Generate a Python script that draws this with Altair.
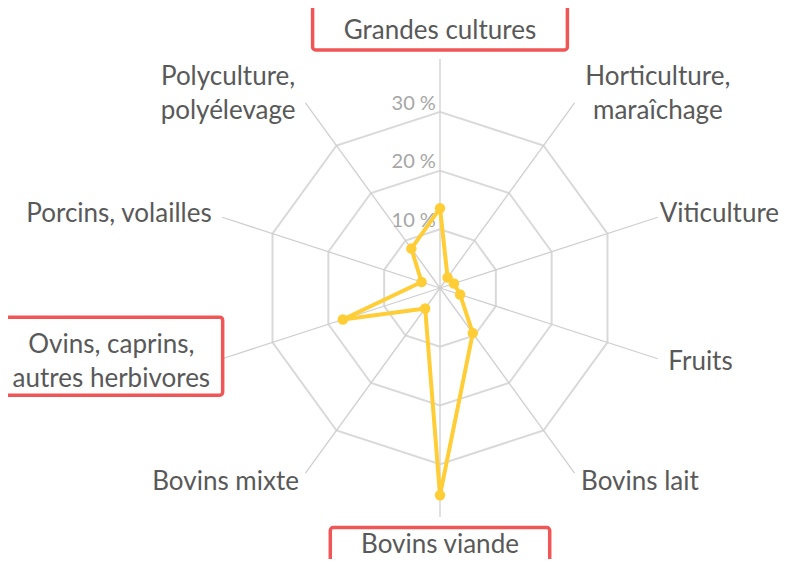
import math
import altair as alt
import pandas as pd

# ---- data ----
categories = ["Grandes cultures", "Horticulture,\nmaraîchage", "Viticulture", "Fruits",
              "Bovins lait", "Bovins viande", "Bovins mixte",
              "Ovins, caprins,\nautres herbivores", "Porcins, volailles",
              "Polyculture,\npolyélevage"]
values = [13.6, 2.2, 2.5, 3.6, 9.5, 35.3, 4.3, 17.4, 3.3, 8.3]
ring_levels = [10, 20, 30]
ring_labels = ["10 %", "20 %", "30 %"]
highlighted = ["Grandes cultures", "Ovins, caprins,\nautres herbivores", "Bovins viande"]

# ---- geometry helpers ----
PX = 5.87          # pixels per percent
W, H = 776, 551
CX, CY = 432, 280  # centre in plot pixels
xdom = [-CX / PX, (W - CX) / PX]
ydom = [-(H - CY) / PX, CY / PX]
n = len(categories)
angles = [i * 360 / n for i in range(n)]
LH = 34  # line height px


def pol(r, a):
    t = math.radians(a)
    return r * math.sin(t), r * math.cos(t)


# rings
ring_rows = []
for lv in ring_levels:
    for k in range(n + 1):
        x, y = pol(lv, angles[k % n])
        ring_rows.append({"ring": lv, "k": k, "x": x, "y": y})
rings = pd.DataFrame(ring_rows)

# spokes
spoke_rows = []
for i, a in enumerate(angles):
    x, y = pol(39, a)
    spoke_rows.append({"s": i, "x": 0, "y": 0, "x2": x, "y2": y})
spokes = pd.DataFrame(spoke_rows)

# series
ser_rows = []
for k in range(n + 1):
    i = k % n
    x, y = pol(values[i], angles[i])
    ser_rows.append({"k": k, "x": x, "y": y, "cat": categories[i], "v": values[i]})
series = pd.DataFrame(ser_rows)

# category labels
CH = 11.8 / PX  # approx char width in units
lab_rows = []
for c, a in zip(categories, angles):
    lines = c.split("\n")
    wid = max(len(l) for l in lines) * CH
    if a in (0, 180):
        x, y = pol(43.8, a)
        align = "center"
    else:
        x, y = pol(40.9, a)
        if len(lines) > 1:
            x = x + (wid / 2 if a < 180 else -wid / 2)
            align = "center"
        else:
            align = "left" if a < 180 else "right"
            if align == "left":
                x = min(x, xdom[1] - len(c) * 11.3 / PX)
    lab_rows.append({"label": c, "x": x, "y": y, "a": a, "align": align, "w": wid, "nl": len(lines),
                     "ty": y + (len(lines) - 1) * LH / 2 / PX})
labels = pd.DataFrame(lab_rows)

# highlight boxes around labels
box_rows = []
for _, r in labels[labels["label"].isin(highlighted)].iterrows():
    cx = r["x"]
    hw = r["w"] / 2 + (33 / PX if r["nl"] == 1 else 11 / PX)
    hh = (6 + 16.5 * r["nl"]) / PX
    if r["a"] == 180:
        dy = -5 / PX
    elif r["nl"] > 1:
        dy = 6 / PX
    else:
        dy = 3.5 / PX
    box_rows.append({"x": cx - hw, "x2": cx + hw, "y": r["y"] - hh + dy, "y2": r["y"] + hh + dy})
boxes = pd.DataFrame(box_rows)

# ring value labels
rl = pd.DataFrame({"y": [lv + 1.4 for lv in ring_levels], "x": [-0.7] * 3, "t": ring_labels})

X = lambda f="x": alt.X(f"{f}:Q", scale=alt.Scale(domain=xdom, nice=False, zero=False), axis=None)
Y = lambda f="y": alt.Y(f"{f}:Q", scale=alt.Scale(domain=ydom, nice=False, zero=False), axis=None)

ring_layer = alt.Chart(rings).mark_line(color="#d9d9d9", strokeWidth=2).encode(
    x=X(), y=Y(), detail="ring:N", order="k:Q")
spoke_layer = alt.Chart(spokes).mark_rule(color="#cfcfcf", strokeWidth=1.3).encode(
    x=X(), y=Y(), x2="x2:Q", y2="y2:Q")
line_layer = alt.Chart(series).mark_line(color="#FFCD36", strokeWidth=4, strokeJoin="round").encode(
    x=X(), y=Y(), order="k:Q")
pt_layer = alt.Chart(series[series["k"] < n]).mark_circle(color="#FFCD36", size=110, opacity=1).encode(
    x=X(), y=Y())

font = "Lato"
txt = []
for al in ["left", "right", "center"]:
    sub = labels[labels["align"] == al]
    txt.append(alt.Chart(sub).mark_text(align=al, baseline="middle", font=font, fontSize=26,
                                        color="#595959", lineBreak="\n", lineHeight=LH).encode(
        x=X(), y=Y("ty"), text="label:N"))

rl_layer = alt.Chart(rl).mark_text(align="right", baseline="middle", font=font, fontSize=20,
                                   color="#a6a6a6").encode(x=X(), y=Y(), text="t:N")

box_layer = alt.Chart(boxes).mark_rect(fill="transparent", stroke="#F05656", strokeWidth=3.5,
                                       cornerRadius=3).encode(x=X(), y=Y(), x2="x2:Q", y2="y2:Q")

chart = alt.layer(ring_layer, spoke_layer, rl_layer, line_layer, pt_layer, *txt, box_layer).properties(
    width=W, height=H, padding=0, background="white", autosize=alt.AutoSizeParams(type="none")
).configure_view(strokeWidth=0, stroke="transparent")

chart.save("out.html", embed_options={"renderer": "svg", "actions": False})
